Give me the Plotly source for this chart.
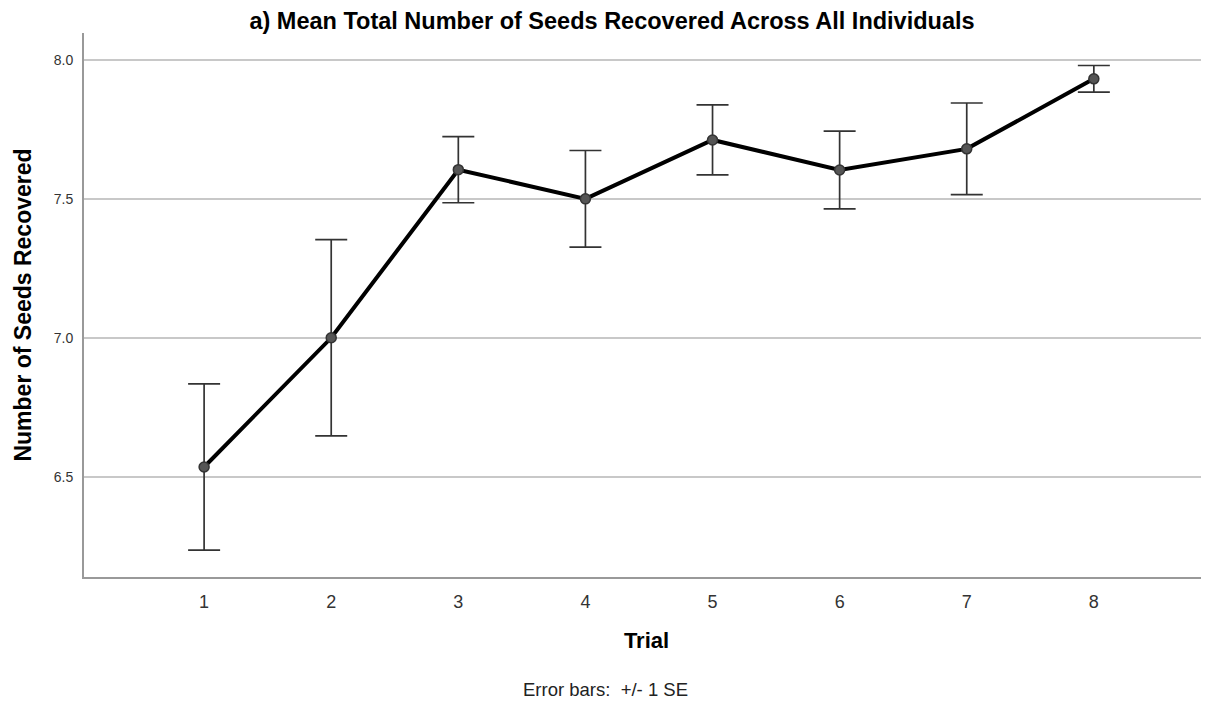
import plotly.graph_objects as go

trials = [1, 2, 3, 4, 5, 6, 7, 8]
mean_seeds = [6.535, 7.0, 7.605, 7.5, 7.712, 7.604, 7.68, 7.932]
se_seeds = [0.299, 0.353, 0.119, 0.174, 0.126, 0.14, 0.165, 0.048]
y_ticks = [6.5, 7.0, 7.5, 8.0]

font = "Liberation Sans, Arial, sans-serif"

trace = go.Scatter(
    x=trials,
    y=mean_seeds,
    mode='lines+markers',
    line=dict(color='black', width=4),
    marker=dict(symbol='circle', size=10, color='#555555',
                line=dict(color='#333333', width=1.5)),
    error_y=dict(type='data', array=se_seeds, visible=True,
                 color='#333333', thickness=1.7, width=16),
    showlegend=False,
    hovertemplate='Trial %{x}<br>Mean: %{y:.2f}<extra></extra>'
)

fig = go.Figure()
fig.add_trace(trace)
# page body has an 8px margin, so the figure is sized/offset to compensate
fig.update_layout(
    width=1201,
    height=693,
    title=dict(
        text="<b>a) Mean Total Number of Seeds Recovered Across All Individuals</b>",
        x=(612 - 8) / 1201, xanchor='center', y=1 - 12.5 / 693, yanchor='middle',
        font=dict(family=font, size=23.5, color='black')
    ),
    margin=dict(t=25, b=124, l=76, r=0),
    plot_bgcolor='white',
    paper_bgcolor='white',
    font=dict(family=font),
)
fig.update_xaxes(
    range=[0.055, 8.906],
    tickvals=trials,
    ticktext=[str(t) for t in trials],
    tickfont=dict(size=18, color='#333333', family=font),
    ticks='', ticklabelstandoff=7,
    showgrid=False, zeroline=False,
    showline=True, linecolor='#999999', linewidth=2,
    title=dict(text="<b>Trial</b>", font=dict(size=22, color='black', family=font),
               standoff=22),
)
fig.update_yaxes(
    range=[6.139, 8.097],
    tickvals=y_ticks,
    tickformat='.1f',
    tickfont=dict(size=14, color='#333333', family=font),
    ticks='', ticklabelstandoff=6,
    showgrid=True, gridcolor='#C8C8C8', gridwidth=1.5,
    zeroline=False,
    showline=True, linecolor='#999999', linewidth=2,
    title=dict(text="<b>Number of Seeds Recovered</b>",
               font=dict(size=23, color='black', family=font), standoff=16),
)
fig.add_annotation(
    text="Error bars:\u00a0 +/- 1 SE",
    xref='paper', yref='paper', x=(597.5 - 76) / 1125, y=-0.2077,
    xanchor='center', yanchor='middle', showarrow=False,
    font=dict(size=18.5, color='#222222', family=font)
)

fig.write_html("out.html")
